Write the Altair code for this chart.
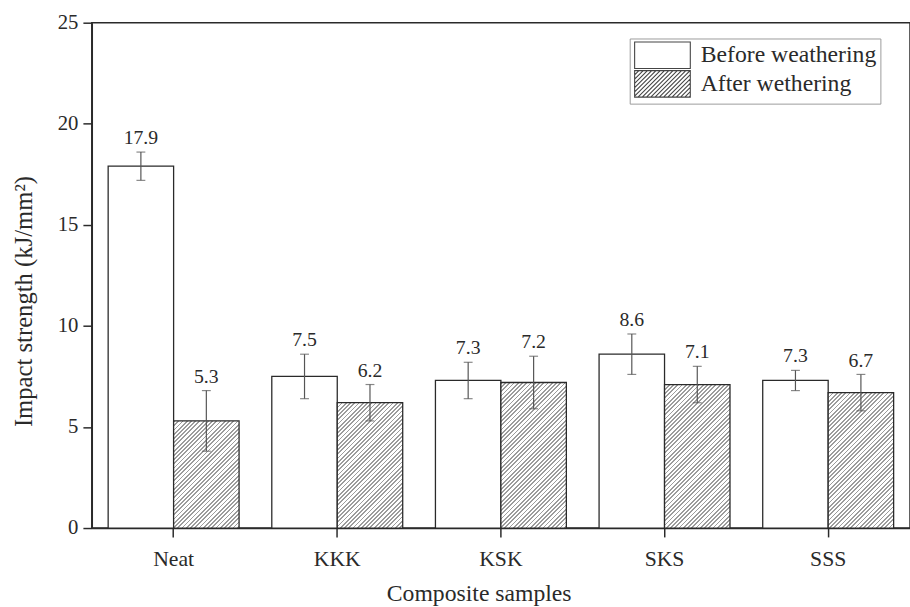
import math
import altair as alt
import pandas as pd

# ---------------- data ----------------
categories = ["Neat", "KKK", "KSK", "SKS", "SSS"]
conditions = ["Before weathering", "After wethering"]
before_vals = [17.9, 7.5, 7.3, 8.6, 7.3]
after_vals = [5.3, 6.2, 7.2, 7.1, 6.7]
before_err = [0.7, 1.1, 0.9, 1.0, 0.5]
after_err = [1.5, 0.9, 1.3, 0.9, 0.9]
y_ticks = [0, 5, 10, 15, 20, 25]

rows = []
for i, c in enumerate(categories):
    rows.append({"cat": c, "cond": conditions[0], "val": before_vals[i], "err": before_err[i]})
    rows.append({"cat": c, "cond": conditions[1], "val": after_vals[i], "err": after_err[i]})
df = pd.DataFrame(rows)
df["lo"] = df["val"] - df["err"]
df["hi"] = df["val"] + df["err"]
df["mid"] = df["val"] / 2

# ---------------- layout / style ----------------
W, H = 829, 512
YMAX = 25
FONT = "Liberation Serif"
INK = "#2a2a2a"
HATCH = "#9c9c9c"

step = W / 5
bar_w = step * 0.4


def hatch_gradient(value):
    """Diagonal '///' stripes emulated with a sharp-stop linear gradient."""
    w = bar_w
    h = value * H / YMAX
    t = (1 / h + 1 / w) / (1 / h ** 2 + 1 / w ** 2)
    x2, y2 = t / h, t / w
    spacing = 4.3  # horizontal distance between stripes (px)
    n = (w + h) / spacing
    f = 1.0 / n
    stops = []
    k = 0
    while k * f < 1:
        a = k * f
        b = min(1.0, a + f * 0.42)
        c = min(1.0, a + f)
        stops += [
            {"offset": round(a, 5), "color": HATCH},
            {"offset": round(b, 5), "color": HATCH},
            {"offset": round(b, 5), "color": "#ffffff"},
            {"offset": round(c, 5), "color": "#ffffff"},
        ]
        k += 1
    return {"gradient": "linear", "x1": 0, "y1": 0, "x2": x2, "y2": y2, "stops": stops}


fill_def = {
    "condition": [
        {"test": f"datum.cat === '{c}' && datum.cond === '{conditions[1]}'",
         "value": hatch_gradient(after_vals[i])}
        for i, c in enumerate(categories)
    ],
    "value": "white",
}

# legend symbols: wide rectangle, and wide rectangle with hatch lines
SYM = 24            # legend symbol unit box (px)
YH = 1.12
XR = 3.7
rect_path = f"M-1,{-YH}L{XR},{-YH}L{XR},{YH}L-1,{YH}Z"
hatch_parts = [rect_path]
sp = 0.36
x0 = -1 - 2 * YH
while x0 < XR:
    tlo = max(0.0, -1 - x0)
    thi = min(2 * YH, XR - x0)
    if thi > tlo:
        hatch_parts.append(
            f"M{x0 + tlo:.3f},{YH - tlo:.3f}L{x0 + thi:.3f},{YH - thi:.3f}"
        )
    x0 += sp
hatch_path = "".join(hatch_parts)

x_enc = alt.X("cat:N", sort=categories, title="Composite samples",
              scale=alt.Scale(paddingInner=0.2, paddingOuter=0.1),
              axis=alt.Axis(labelAngle=0, titleX=392, titleAnchor="start", titleAlign="center"))
xo_enc = alt.XOffset("cond:N", sort=conditions,
                     scale=alt.Scale(domain=conditions, paddingInner=0, paddingOuter=0))
y_scale = alt.Scale(domain=[0, YMAX], nice=False)

base = alt.Chart(df)

legend_pts = base.mark_point(filled=False, color="#444444", strokeWidth=1.1,
                             opacity=1, size=4).encode(
    x=x_enc, xOffset=xo_enc,
    y=alt.Y("mid:Q", scale=y_scale),
    shape=alt.Shape("cond:N", sort=conditions,
                    scale=alt.Scale(domain=conditions, range=[rect_path, hatch_path]),
                    legend=alt.Legend(title=None, orient="none", legendX=545, legendY=16,
                                      strokeColor="#9a9a9a", fillColor="white", padding=4,
                                      labelFont=FONT, labelFontSize=24, labelColor=INK,
                                      labelLimit=0,
                                      symbolSize=SYM * SYM, symbolStrokeWidth=1.1,
                                      labelOffset=42, rowPadding=-4)),
)

bars = base.mark_bar(stroke=INK, strokeWidth=1.3, opacity=1).encode(
    x=x_enc, xOffset=xo_enc,
    y=alt.Y("val:Q", scale=y_scale,
            title="Impact strength (kJ/mm²)",
            axis=alt.Axis(values=y_ticks, titleY=282)),
    fill=fill_def,
)

err_rule = base.mark_rule(color="#555555", strokeWidth=1.2).encode(
    x=x_enc, xOffset=xo_enc,
    y=alt.Y("lo:Q", scale=y_scale), y2="hi:Q",
)
cap_lo = base.mark_tick(color="#555555", thickness=1.2, size=9).encode(
    x=x_enc, xOffset=xo_enc, y=alt.Y("lo:Q", scale=y_scale),
)
cap_hi = base.mark_tick(color="#555555", thickness=1.2, size=9).encode(
    x=x_enc, xOffset=xo_enc, y=alt.Y("hi:Q", scale=y_scale),
)
labels = base.mark_text(font=FONT, fontSize=20, color=INK, baseline="alphabetic",
                        dy=-8).encode(
    x=x_enc, xOffset=xo_enc, y=alt.Y("hi:Q", scale=y_scale),
    text=alt.Text("val:Q", format=".1f"),
)

chart = alt.layer(legend_pts, bars, err_rule, cap_lo, cap_hi, labels).properties(
    width=W, height=H,
    background="white",
    autosize=alt.AutoSizeParams(type="none"),
    padding={"left": 93, "top": 19, "right": 0, "bottom": 76},
).configure_view(
    stroke=INK, strokeWidth=1.5
).configure_axis(
    labelFont=FONT, titleFont=FONT, labelColor=INK, titleColor=INK,
    domainColor=INK, tickColor=INK, domainWidth=1.5, tickWidth=1.5,
    grid=False, titleFontWeight="normal",
).configure_axisY(
    labelFontSize=21, titleFontSize=25, tickSize=9, labelPadding=5, titlePadding=21,
).configure_axisX(
    labelFontSize=22, titleFontSize=24, tickSize=9, labelPadding=12, titlePadding=12,
)

chart.save("out.html", embed_options={"renderer": "svg", "actions": False})
